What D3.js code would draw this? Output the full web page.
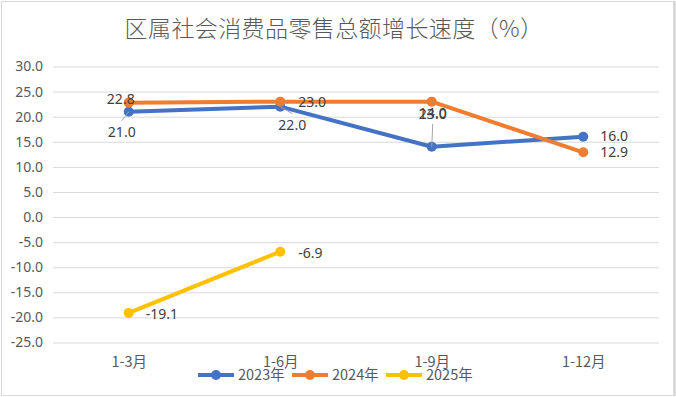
<!DOCTYPE html>
<html>
<head>
<meta charset="utf-8">
<script src="https://cdn.jsdelivr.net/npm/d3@7/dist/d3.min.js"></script>
<style>
  body { margin: 0; background: #fff; }
  text { font-family: "Noto Sans CJK SC", "Noto Sans", sans-serif; }
</style>
</head>
<body>
<div id="chart"></div>
<script>
// data
const title = '区属社会消费品零售总额增长速度（%）';
const categories = ['1-3月', '1-6月', '1-9月', '1-12月'];
const seriesNames = ['2023年', '2024年', '2025年'];
const values2023 = [21.0, 22.0, 14.0, 16.0];
const values2024 = [22.8, 23.0, 23.0, 12.9];
const values2025 = [-19.1, -6.9, null, null];
const yTicks = [30, 25, 20, 15, 10, 5, 0, -5, -10, -15, -20, -25];

const colors = ['#4472C4', '#ED7D31', '#FFC000'];

// label placement (dx, dy from point, anchor, leader line)
const labelPos = [
  [{dx: -7, dy: 20, a: 'middle', lead: true}, {dx: 12, dy: 18, a: 'middle', lead: true}, {dx: 1, dy: -34, a: 'middle', lead: true}, {dx: 17, dy: -1, a: 'start'}],
  [{dx: -8, dy: -4, a: 'middle'}, {dx: 18, dy: 0, a: 'start'}, {dx: 1, dy: 12, a: 'middle', lead: true}, {dx: 17, dy: 0, a: 'start'}],
  [{dx: 17, dy: 1, a: 'start'}, {dx: 18, dy: 1, a: 'start'}, null, null]
];

const width = 676, height = 397;
const plot = {left: 53, right: 659, top: 66.5, bottom: 342.5};

const svg = d3.select('#chart').append('svg')
  .attr('width', width)
  .attr('height', height);

// frame
svg.append('rect')
  .attr('x', 1.5).attr('y', 1.5)
  .attr('width', 672.5).attr('height', 394)
  .attr('fill', '#fff')
  .attr('stroke', '#d9d9d9');
svg.append('line')
  .attr('x1', 674.5).attr('x2', 674.5).attr('y1', 1).attr('y2', 396)
  .attr('stroke', '#d0d0d0').attr('stroke-width', 2);

svg.append('text')
  .attr('x', 334).attr('y', 37)
  .attr('text-anchor', 'middle')
  .attr('font-size', 23)
  .attr('font-weight', 300)
  .attr('letter-spacing', 0.4)
  .attr('fill', '#595959')
  .text(title);

const x = d3.scalePoint()
  .domain(categories)
  .range([plot.left, plot.right])
  .padding(0.5);

const y = d3.scaleLinear()
  .domain([-25, 30])
  .range([plot.bottom, plot.top]);

// grid + y axis
const yAxis = svg.append('g')
  .attr('transform', `translate(${plot.left},0)`)
  .call(d3.axisLeft(y).tickValues(yTicks).tickFormat(d3.format('.1f')).tickSize(-(plot.right - plot.left)).tickPadding(10));
yAxis.select('.domain').remove();
yAxis.selectAll('line').attr('stroke', '#d9d9d9');
yAxis.selectAll('text')
  .attr('font-size', 14)
  .attr('fill', '#595959')
  .style('font-family', '"Noto Sans", sans-serif')
  .text(d => d3.format('.1f')(d).replace('−', '-'));

// x axis labels
const xAxis = svg.append('g')
  .attr('transform', `translate(0,${plot.bottom})`)
  .call(d3.axisBottom(x).tickSize(0).tickPadding(14));
xAxis.select('.domain').remove();
xAxis.selectAll('text')
  .attr('font-size', 14.5)
  .attr('fill', '#595959');

const allSeries = [values2023, values2024, values2025];

const line = d3.line()
  .defined(d => d != null)
  .x((d, i) => x(categories[i]))
  .y(d => y(d));

allSeries.forEach((vals, s) => {
  svg.append('path')
    .datum(vals)
    .attr('fill', 'none')
    .attr('stroke', colors[s])
    .attr('stroke-width', 4)
    .attr('stroke-linejoin', 'round')
    .attr('stroke-linecap', 'round')
    .attr('d', line);
});

allSeries.forEach((vals, s) => {
  svg.selectAll('.pt' + s)
    .data(vals.map((v, i) => ({v, i})).filter(d => d.v != null))
    .enter().append('circle')
    .attr('cx', d => x(categories[d.i]))
    .attr('cy', d => y(d.v))
    .attr('r', 5)
    .attr('fill', colors[s]);
});

// data labels
allSeries.forEach((vals, s) => {
  vals.forEach((v, i) => {
    if (v == null) return;
    const p = labelPos[s][i];
    const px = x(categories[i]), py = y(v);
    if (p.lead) {
      const tx = px + p.dx, ty = py + p.dy;
      const ey = p.dy > 0 ? ty - 11 : ty + 11;
      svg.append('line')
        .attr('x1', px).attr('y1', py)
        .attr('x2', tx).attr('y2', ey)
        .attr('stroke', '#a6a6a6').attr('stroke-width', 1);
    }
    svg.append('text')
      .attr('x', px + p.dx)
      .attr('y', py + p.dy)
      .attr('dy', '0.35em')
      .attr('text-anchor', p.a)
      .attr('font-size', 14)
      .attr('fill', '#404040')
      .style('font-family', '"Noto Sans", sans-serif')
      .text(d3.format('.1f')(v).replace('−', '-'));
  });
});

// legend
const legendX = [198, 292, 386];
const legend = svg.append('g').attr('transform', 'translate(0,375)');
seriesNames.forEach((name, s) => {
  const g = legend.append('g').attr('transform', `translate(${legendX[s]},0)`);
  g.append('line').attr('x1', 0).attr('x2', 36).attr('stroke', colors[s]).attr('stroke-width', 4);
  g.append('circle').attr('cx', 18).attr('r', 5).attr('fill', colors[s]);
  g.append('text')
    .attr('x', 40).attr('dy', '0.35em')
    .attr('font-size', 14.5)
    .attr('fill', '#595959')
    .text(name);
});
</script>
</body>
</html>
